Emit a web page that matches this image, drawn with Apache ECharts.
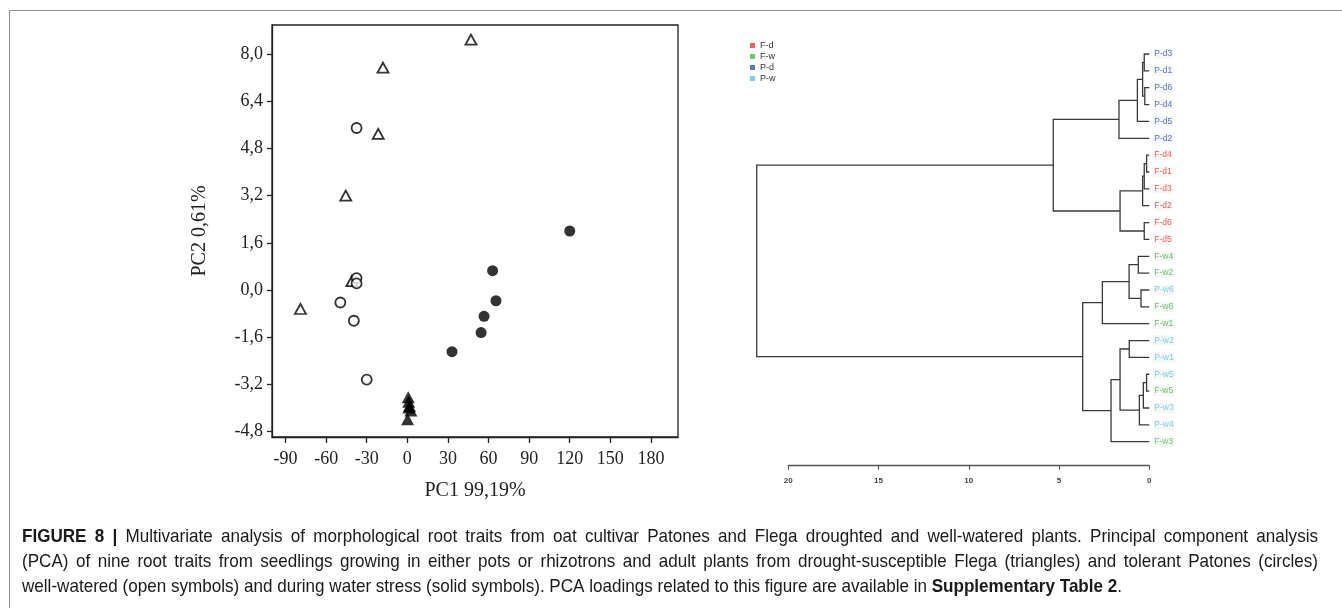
<!DOCTYPE html>
<html>
<head>
<meta charset="utf-8">
<script src="https://cdn.jsdelivr.net/npm/echarts@6/dist/echarts.min.js"></script>
<style>
  html, body { margin: 0; padding: 0; background: #fff; }
  #chart { width: 1342px; height: 608px; }
</style>
</head>
<body>
<div id="chart"></div>
<script>
// ---- PCA scores [PC1, PC2] ----
const flegaWatered   = [[47, 8.5], [-18, 7.55], [-21.5, 5.3], [-45.5, 3.2], [-79, -0.65], [-41, 0.3]];
const patonesWatered = [[-37.5, 5.5], [-37.5, 0.4], [-37.5, 0.22], [-49.5, -0.43], [-39.5, -1.05], [-30, -3.05]];
const flegaDrought   = [[0.7, -3.65], [1.0, -3.8], [1.6, -3.95], [2.6, -4.1], [1.2, -4.0], [0.2, -4.4]];
const patonesDrought = [[120, 2.0], [63, 0.65], [65.5, -0.37], [56.7, -0.9], [54.5, -1.45], [33, -2.1]];

const pc1Range = [-100, 200];
const pc2Range = [-5, 9];
const pc1Ticks = [-90, -60, -30, 0, 30, 60, 90, 120, 150, 180];
const pc2Ticks = [-4.8, -3.2, -1.6, 0, 1.6, 3.2, 4.8, 6.4, 8.0];

// ---- Hierarchical clustering ----
const leaves = ['P-d3', 'P-d1', 'P-d6', 'P-d4', 'P-d5', 'P-d2',
                'F-d4', 'F-d1', 'F-d3', 'F-d2', 'F-d6', 'F-d5',
                'F-w4', 'F-w2', 'P-w6', 'F-w6', 'F-w1',
                'P-w2', 'P-w1', 'P-w5', 'F-w5', 'P-w3', 'P-w4', 'F-w3'];
// each merge: [child A, child B, linkage distance]; merge k is referred to as 'c' + k
const merges = [
  ['P-d3', 'P-d1', 0.28],   // c0
  ['P-d6', 'P-d4', 0.25],   // c1
  ['c0', 'c1', 0.37],       // c2
  ['c2', 'P-d5', 0.66],     // c3
  ['c3', 'P-d2', 1.68],     // c4
  ['F-d4', 'F-d1', 0.15],   // c5
  ['c5', 'F-d3', 0.28],     // c6
  ['c6', 'F-d2', 0.37],     // c7
  ['F-d6', 'F-d5', 0.28],   // c8
  ['c7', 'c8', 1.62],       // c9
  ['c4', 'c9', 5.32],       // c10
  ['F-w4', 'F-w2', 0.61],   // c11
  ['P-w6', 'F-w6', 0.46],   // c12
  ['c11', 'c12', 1.12],     // c13
  ['c13', 'F-w1', 2.6],     // c14
  ['P-w2', 'P-w1', 1.11],   // c15
  ['P-w5', 'F-w5', 0.15],   // c16
  ['c16', 'P-w3', 0.33],    // c17
  ['c17', 'P-w4', 0.55],    // c18
  ['c15', 'c18', 1.62],     // c19
  ['c19', 'F-w3', 2.12],    // c20
  ['c14', 'c20', 3.69],     // c21
  ['c10', 'c21', 21.75]     // c22
];
const distanceTicks = [0, 5, 10, 15, 20];
const groups = ['F-d', 'F-w', 'P-d', 'P-w'];
const groupColors = { 'F-d': '#f0392e', 'F-w': '#45b845', 'P-d': '#2f55b8', 'P-w': '#58c6de' };

const captionLines = [
  [['b', 'FIGURE 8 |'], ['n', ' Multivariate analysis of morphological root traits from oat cultivar Patones and Flega droughted and well-watered plants. Principal component analysis']],
  [['n', '(PCA) of nine root traits from seedlings growing in either pots or rhizotrons and adult plants from drought-susceptible Flega (triangles) and tolerant Patones (circles)']],
  [['n', 'well-watered (open symbols) and during water stress (solid symbols). PCA loadings related to this figure are available in '], ['b', 'Supplementary Table 2'], ['n', '.']]
];

// ---- build dendrogram segments from the merge list ----
const nodePos = {};
leaves.forEach((n, i) => { nodePos[n] = [0, i]; });
const segments = merges.map((m, k) => {
  const a = nodePos[m[0]], b = nodePos[m[1]];
  nodePos['c' + k] = [m[2], (a[1] + b[1]) / 2];
  return [a[0], a[1], b[0], b[1], m[2]];
});

const serif = '"Liberation Serif", "Times New Roman", serif';
const sans = '"Liberation Sans", Arial, sans-serif';
const ink = '#222';

const openStyle = { color: '#fff', borderColor: '#000', borderWidth: 1.8 };
const solidStyle = { color: '#000' };

const chart = echarts.init(document.getElementById('chart'));

// ---- caption: condensed sans, first two lines justified ----
const captionFont = '"Liberation Sans Narrow", "Liberation Sans", Arial, sans-serif';
const captionSize = 19;
const captionLeft = 22;
const captionWidth = 1296;
const captionY = [537, 562, 587];
const captionColor = '#1a1a1a';
const measureCtx = document.createElement('canvas').getContext('2d');
function textWidth(kind, t) {
  measureCtx.font = (kind === 'b' ? 'bold ' : '') + captionSize + 'px ' + captionFont;
  return measureCtx.measureText(t).width;
}
const lastLineWidth = 1100;
const lastRuns = captionLines[2];
const captionScale = lastLineWidth / lastRuns.reduce((w, [k, t]) => w + textWidth(k, t), 0);
const richStyles = {
  b: { fontFamily: captionFont, fontSize: captionSize, fontWeight: 'bold', fill: captionColor },
  n: { fontFamily: captionFont, fontSize: captionSize, fill: captionColor }
};
function wordText(kind, t, x, y) {
  return {
    type: 'text', x: x, y: y, scaleX: captionScale,
    style: { text: '{' + kind + '|' + t + '}', verticalAlign: 'middle', rich: richStyles }
  };
}
const captionGraphics = [];
captionLines.forEach((runs, i) => {
  if (i === captionLines.length - 1) {
    captionGraphics.push({
      type: 'text', x: captionLeft, y: captionY[i], scaleX: captionScale,
      style: { text: runs.map(([k, t]) => '{' + k + '|' + t + '}').join(''), verticalAlign: 'middle', rich: richStyles }
    });
    return;
  }
  const words = [];
  runs.forEach(([k, t]) => t.split(' ').filter(w => w.length).forEach(w => words.push([k, w])));
  const widths = words.map(([k, w]) => textWidth(k, w) * captionScale);
  const total = widths.reduce((a, b) => a + b, 0);
  const gap = (captionWidth - total) / (words.length - 1);
  let x = captionLeft;
  words.forEach(([k, w], j) => {
    captionGraphics.push(wordText(k, w, x, captionY[i]));
    x += widths[j] + gap;
  });
});

const leafSeries = groups.map(g => ({
  name: g,
  type: 'scatter',
  xAxisIndex: 1, yAxisIndex: 1,
  symbolSize: 0,
  itemStyle: { color: groupColors[g] },
  label: {
    show: true, position: 'right', distance: 4,
    formatter: '{b}', color: groupColors[g],
    fontFamily: sans, fontSize: 8.5,
    backgroundColor: '#f5f5f5', padding: [1, 1, 0, 1]
  },
  silent: true,
  data: leaves.map((n, i) => ({ name: n, value: [0, i] })).filter(d => d.name.slice(0, 3) === g)
}));

chart.setOption({
  animation: false,
  backgroundColor: '#fff',
  graphic: [
    { type: 'rect', shape: { x: 9.5, y: 10.5, width: 1400, height: 700 }, style: { fill: null, stroke: '#8f8f8f', lineWidth: 1 } },
    ...captionGraphics
  ],
  legend: {
    orient: 'vertical', left: 745, top: 36,
    itemWidth: 5, itemHeight: 5, itemGap: 2,
    selectedMode: false,
    textStyle: { fontFamily: sans, fontSize: 9, color: '#333', lineHeight: 9 },
    data: groups.map(g => ({ name: g, icon: 'rect', itemStyle: { color: groupColors[g] } }))
  },
  grid: [
    { left: 272, top: 25, width: 406, height: 412, show: true, borderColor: ink, borderWidth: 1.3, containLabel: false },
    { left: 788.3, top: 54, width: 361, height: 387.7, containLabel: false }
  ],
  xAxis: [
    {
      gridIndex: 0, type: 'value', min: pc1Range[0], max: pc1Range[1],
      name: 'PC1 99,19%', nameLocation: 'middle', nameGap: 44,
      nameTextStyle: { fontFamily: serif, fontSize: 20, color: ink },
      axisLine: { show: true, onZero: false, lineStyle: { color: ink, width: 1.3 } },
      axisTick: { show: true, length: 6, lineStyle: { color: ink, width: 1.3 }, customValues: pc1Ticks },
      axisLabel: { fontFamily: serif, fontSize: 18, color: ink, margin: 13, customValues: pc1Ticks, formatter: v => String(v) },
      splitLine: { show: false }
    },
    {
      gridIndex: 1, type: 'value', min: 0, max: 20, interval: 5, inverse: true,
      position: 'bottom', offset: 24,
      axisLine: { show: true, onZero: false, lineStyle: { color: '#555', width: 1.3 } },
      axisTick: { show: true, length: 4, lineStyle: { color: '#555', width: 1.2 }, customValues: distanceTicks },
      axisLabel: { fontFamily: sans, fontSize: 8, fontWeight: 'bold', color: '#444', margin: 11, customValues: distanceTicks },
      splitLine: { show: false }
    }
  ],
  yAxis: [
    {
      gridIndex: 0, type: 'value', min: pc2Range[0], max: pc2Range[1],
      name: 'PC2 0,61%', nameLocation: 'middle', nameGap: 62,
      nameTextStyle: { fontFamily: serif, fontSize: 20, color: ink },
      axisLine: { show: true, onZero: false, lineStyle: { color: ink, width: 1.3 } },
      axisTick: { show: true, length: 5, lineStyle: { color: ink, width: 1.3 }, customValues: pc2Ticks },
      axisLabel: { fontFamily: serif, fontSize: 18, color: ink, margin: 9, customValues: pc2Ticks,
                   formatter: v => v.toFixed(1).replace('.', ',') },
      splitLine: { show: false }
    },
    {
      gridIndex: 1, type: 'value', min: 0, max: leaves.length - 1, inverse: true, show: false
    }
  ],
  series: [
    { name: 'Flega well-watered', type: 'scatter', symbol: 'triangle', symbolSize: [11, 10], itemStyle: openStyle, data: flegaWatered, silent: true },
    { name: 'Patones well-watered', type: 'scatter', symbol: 'circle', symbolSize: 10, itemStyle: openStyle, data: patonesWatered, silent: true },
    { name: 'Flega drought', type: 'scatter', symbol: 'triangle', symbolSize: [13, 12], itemStyle: solidStyle, data: flegaDrought, silent: true },
    { name: 'Patones drought', type: 'scatter', symbol: 'circle', symbolSize: 11, itemStyle: solidStyle, data: patonesDrought, silent: true },
    {
      name: 'dendrogram', type: 'custom', xAxisIndex: 1, yAxisIndex: 1, clip: false, silent: true,
      encode: { x: [0, 2, 4], y: [1, 3] },
      renderItem: (params, api) => {
        const hA = api.value(0), yA = api.value(1), hB = api.value(2), yB = api.value(3), h = api.value(4);
        return {
          type: 'polyline',
          shape: { points: [api.coord([hA, yA]), api.coord([h, yA]), api.coord([h, yB]), api.coord([hB, yB])] },
          style: { stroke: '#3a3a3a', lineWidth: 1.3, fill: null }
        };
      },
      data: segments
    },
    ...leafSeries
  ]
});
</script>
</body>
</html>
